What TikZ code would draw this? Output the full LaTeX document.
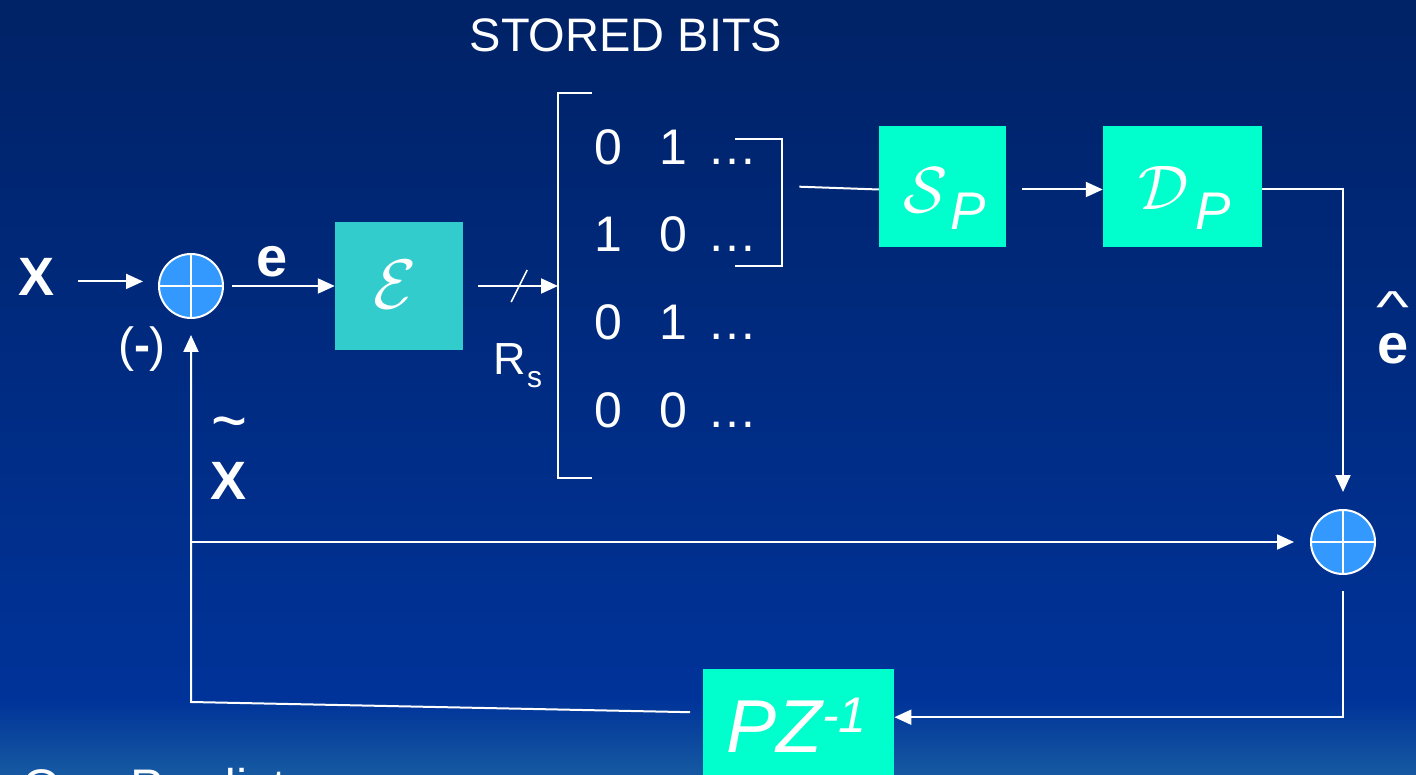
\documentclass[tikz,border=0pt]{standalone}
\usepackage{graphicx}
\usepackage{fontspec}
\setmainfont{Liberation Sans}
\usetikzlibrary{arrows.meta,calc}
\definecolor{bgtop}{RGB}{0,34,102}
\definecolor{bgmid}{RGB}{0,51,153}
\definecolor{bgbot}{RGB}{22,90,162}
\definecolor{sumfill}{RGB}{51,153,255}
\definecolor{encbox}{RGB}{51,204,204}
\definecolor{aqua}{RGB}{0,255,204}
\newcommand{\fsz}[1]{\fontsize{#1}{#1}\selectfont}
\begin{document}
\begin{tikzpicture}[x=1pt,y=-1pt,
  wire/.style={white,line width=2pt},
  arr/.style={wire,-{Triangle[length=17pt,width=15pt]}},
  sumnode/.style={circle,fill=sumfill,draw=white,line width=2pt,minimum size=64pt,inner sep=0pt},
  block/.style={rectangle,inner sep=0pt,fill=aqua},
  lbl/.style={text=white,inner sep=0pt}]
\clip (0,0) rectangle (1416,775);
\shade[top color=bgtop,bottom color=bgmid] (0,0) rectangle (1416,700);
\shade[top color=bgmid,bottom color=bgbot] (0,699) rectangle (1416,775);

% title
\node[lbl,anchor=base] (title) at (626,52) {\fsz{47}STORED BITS};
\node[lbl,anchor=base west] (pred) at (22,804) {\fsz{50}One Predictor};

% summing junctions
\node[sumnode] (s1) at (191,286) {};
\draw[white,line width=1.6pt] (s1.north)--(s1.south) (s1.west)--(s1.east);
\node[sumnode] (s2) at (1343,542) {};
\draw[white,line width=1.6pt] (s2.north)--(s2.south) (s2.west)--(s2.east);

% blocks
\node[block,fill=encbox,minimum width=128pt,minimum height=128pt] (E) at (399,286) {};
\node[lbl] (Elbl) at (395,285) {\scalebox{7}{$\mathcal{E}$}};
\node[block,minimum width=127pt,minimum height=121pt] (SP) at (942.5,186.5) {};
\node[lbl] (SPs) at (926,190) {\scalebox{6.5}{$\mathcal{S}$}};
\node[lbl,anchor=base west] (SPp) at (950,230) {\fsz{53}\itshape P};
\node[block,minimum width=159pt,minimum height=121pt] (DP) at (1182.5,186.5) {};
\node[lbl] (DPd) at (1164,188) {\scalebox{6.3}{$\mathcal{D}$}};
\node[lbl,anchor=base west] (DPp) at (1195,230) {\fsz{53}\itshape P};
\node[block,minimum width=191pt,minimum height=120pt,anchor=north west] (PZ) at (703,669) {};
\node[lbl,anchor=base west] (PZlbl) at (726,752) {\fsz{75}\itshape PZ\raisebox{20pt}{\fsz{50}-1}};

% stored bits
\node[minimum width=200pt,minimum height=385pt,inner sep=0pt,anchor=north west] (bits) at (558,93) {};
\draw[wire] ([xshift=34pt]bits.north west) -- (bits.north west) -- (bits.south west) -- ([xshift=34pt]bits.south west);
\foreach \r/\a/\b/\yy in {1/0/1/165, 2/1/0/252, 3/0/1/340, 4/0/0/427}{
  \node[lbl,anchor=base] (b\r a) at (608,\yy) {\fsz{50}\a};
  \node[lbl,anchor=base] (b\r b) at (673,\yy) {\fsz{50}\b};
  \node[lbl,anchor=base] (b\r c) at (732,\yy) {\fsz{50}…};
}
\node[minimum width=47pt,minimum height=127pt,inner sep=0pt,anchor=north west] (sel) at (735,139) {};
\draw[wire] (sel.north west) -- (sel.north east) -- (sel.south east) -- (sel.south west);

% labels
\node[lbl,anchor=base] (xin) at (37,296) {\fsz{54}\bfseries X};
\node[lbl,anchor=base] (elbl) at (272,277) {\fsz{56}\bfseries e};
\node[lbl,anchor=base] (minus) at (142,362) {\fsz{48}(\textbf{-})};
\node[lbl,anchor=base] (xt) at (229,499) {\fsz{54}\bfseries X};
\node[lbl] (tilde) at (229,431) {\scalebox{1.1}[1.25]{\fsz{56}\textasciitilde}};
\node[lbl,anchor=base] (eh) at (1393,363) {\fsz{56}\bfseries e};
\node[lbl] (hat) at (1393,307) {\scalebox{1.25}[0.8]{\fsz{56}\textasciicircum}};
\node[lbl,anchor=base] (R) at (510,375) {\fsz{45}R};
\node[lbl,anchor=base west] (Rs) at (527,388) {\fsz{30}s};

% connectors
\draw[arr] ([xshift=23pt,yshift=-4pt]xin.east) -- ([xshift=-15pt,yshift=-4pt]xin.east -| s1.west);
\draw[arr] ([xshift=8pt]s1.east) -- (s1.east -| E.west);
\draw[arr] ([xshift=15pt]E.east) -- (E.east -| bits.west);
\draw[wire,line width=1.6pt] ([xshift=56pt]E.east) ++(-8,16) -- ++(16,-32);
\draw[wire] ([xshift=17pt,yshift=16pt]sel.east) -- ([yshift=-3pt]SP.west);
\draw[arr] ([xshift=16pt,yshift=-3pt]SP.east) -- ([yshift=-3pt]DP.west);
\draw[arr,shorten >=17pt] ([yshift=-3pt]DP.east) -| (s2.north);
\draw[arr] ([yshift=-16pt]s2.south) |- ([yshift=12pt]PZ.east);
\coordinate (corner) at (191,702);
\draw[arr,shorten >=16pt] ([xshift=-13pt,yshift=17pt]PZ.west) -- (corner) -- (s1.south);
\coordinate (br) at (191,542);
\draw[arr,shorten >=16pt] (br) -- (s2.west);
\end{tikzpicture}
\end{document}
